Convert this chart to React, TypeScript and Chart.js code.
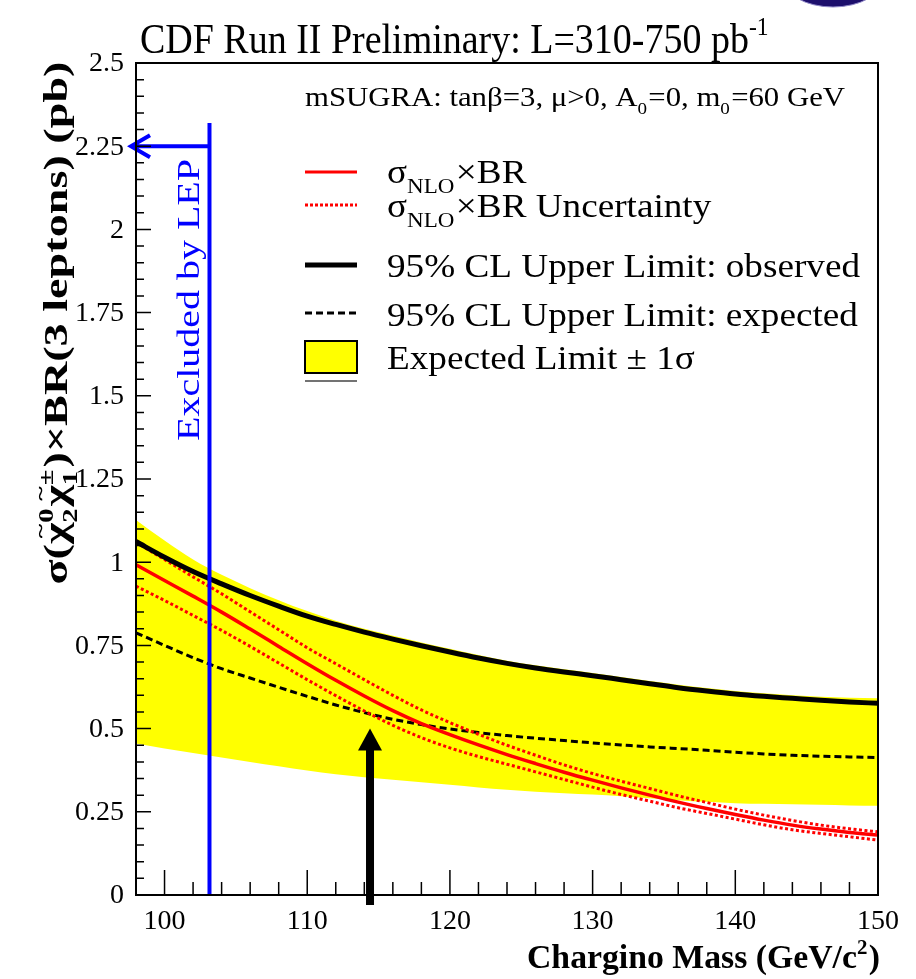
import { useEffect, useRef } from "react";
import { Chart, registerables } from "chart.js";

Chart.register(...registerables);

// Chargino mass grid (GeV/c^2)
const MASS = [98, 100, 102, 104, 106, 108, 110, 112, 114, 116, 118, 120, 122, 124, 126, 128, 130, 132, 134, 136, 138, 140, 142, 144, 146, 148, 150];

// 95% CL upper limits (pb)
const OBSERVED = [1.062, 1.015, 0.972, 0.935, 0.9, 0.868, 0.838, 0.813, 0.79, 0.769, 0.749, 0.73, 0.712, 0.696, 0.682, 0.67, 0.659, 0.647, 0.635, 0.623, 0.613, 0.604, 0.597, 0.591, 0.585, 0.58, 0.576];
const EXPECTED = [0.788, 0.75, 0.713, 0.68, 0.652, 0.624, 0.597, 0.571, 0.548, 0.528, 0.512, 0.499, 0.488, 0.479, 0.471, 0.464, 0.457, 0.451, 0.445, 0.44, 0.435, 0.429, 0.424, 0.42, 0.417, 0.415, 0.413];
const EXPECTED_HIGH = [1.127, 1.065, 1.008, 0.962, 0.922, 0.886, 0.853, 0.824, 0.8, 0.779, 0.759, 0.74, 0.721, 0.704, 0.69, 0.678, 0.667, 0.655, 0.643, 0.632, 0.622, 0.613, 0.606, 0.6, 0.596, 0.593, 0.591];
const EXPECTED_LOW = [0.455, 0.44, 0.427, 0.413, 0.4, 0.387, 0.374, 0.363, 0.354, 0.346, 0.339, 0.331, 0.323, 0.316, 0.31, 0.306, 0.302, 0.297, 0.291, 0.285, 0.28, 0.276, 0.274, 0.273, 0.271, 0.269, 0.268];

// NLO cross section x BR and its uncertainty (pb)
const XSEC = [0.992, 0.945, 0.898, 0.85, 0.799, 0.747, 0.695, 0.645, 0.598, 0.554, 0.515, 0.482, 0.451, 0.422, 0.395, 0.369, 0.345, 0.322, 0.3, 0.279, 0.26, 0.242, 0.225, 0.21, 0.198, 0.188, 0.18];
const XSEC_HIGH = [1.06, 1.008, 0.956, 0.905, 0.851, 0.797, 0.743, 0.695, 0.647, 0.6, 0.556, 0.518, 0.483, 0.45, 0.42, 0.391, 0.365, 0.342, 0.32, 0.298, 0.278, 0.258, 0.24, 0.224, 0.21, 0.199, 0.19];
const XSEC_LOW = [0.928, 0.885, 0.84, 0.795, 0.747, 0.697, 0.647, 0.599, 0.553, 0.51, 0.473, 0.442, 0.416, 0.393, 0.37, 0.347, 0.324, 0.302, 0.282, 0.262, 0.245, 0.228, 0.211, 0.196, 0.185, 0.175, 0.165];

// LEP exclusion and the marked crossing point
const LEP_LIMIT = 103.15;
const LEP_ARROW_LEVEL = 2.25;
const LEP_LINE_TOP = 2.32;
const CROSSING_MASS = 114.4;
const CROSSING_LEVEL = 0.5;

// Axis tick labels
const Y_TICKS = ["0", "0.25", "0.5", "0.75", "1", "1.25", "1.5", "1.75", "2", "2.25", "2.5"];
const X_TICKS = ["100", "110", "120", "130", "140", "150"];

const SERIF = '"Liberation Serif", "DejaVu Serif", "Times New Roman", serif';
const font = (weight: string, size: number) => `${weight} ${size}px ${SERIF}`;

type Run = { t?: string; sub?: string; sup?: string; tilde?: boolean };

function runWidth(ctx: CanvasRenderingContext2D, r: Run, size: number, weight: string) {
  if (r.t !== undefined) {
    ctx.font = font(weight, size);
    return ctx.measureText(r.t).width;
  }
  ctx.font = font(weight, size * 0.62);
  const a = r.sub ? ctx.measureText(r.sub).width : 0;
  const b = r.sup ? ctx.measureText(r.sup).width : 0;
  return Math.max(a, b) + size * 0.04;
}

function richWidth(ctx: CanvasRenderingContext2D, runs: Run[], size: number, weight: string) {
  return runs.reduce((s, r) => s + runWidth(ctx, r, size, weight), 0);
}

function drawRich(
  ctx: CanvasRenderingContext2D,
  runs: Run[],
  size: number,
  weight: string,
  color: string,
  x: number,
  y: number,
  opts: { width?: number; sx?: number; align?: "left" | "right" | "center" } = {}
) {
  const natural = richWidth(ctx, runs, size, weight);
  const sx = opts.width ? opts.width / natural : opts.sx ?? 1;
  const total = natural * sx;
  let x0 = x;
  if (opts.align === "right") x0 = x - total;
  if (opts.align === "center") x0 = x - total / 2;
  ctx.save();
  ctx.translate(x0, y);
  ctx.scale(sx, 1);
  ctx.fillStyle = color;
  ctx.textAlign = "left";
  ctx.textBaseline = "alphabetic";
  let cx = 0;
  for (const r of runs) {
    const w = runWidth(ctx, r, size, weight);
    if (r.t !== undefined) {
      ctx.font = font(weight, size);
      ctx.fillText(r.t, cx, 0);
      if (r.tilde) {
        ctx.font = font(weight, size * 0.6);
        const tw = ctx.measureText("~").width;
        ctx.fillText("~", cx + (w - tw) / 2 + size * 0.05, -size * 0.62);
      }
    } else {
      ctx.font = font(weight, size * 0.62);
      if (r.sup) ctx.fillText(r.sup, cx, -size * 0.42);
      if (r.sub) ctx.fillText(r.sub, cx, size * 0.3);
    }
    cx += w;
  }
  ctx.restore();
  return sx;
}

const pts = (vals: number[]) => MASS.map((m, i) => ({ x: m, y: vals[i] }));

const decorPlugin = {
  id: "decor",
  afterDraw(chart: any) {
    const ctx: CanvasRenderingContext2D = chart.ctx;
    const { left, right, top, bottom } = chart.chartArea;
    const xs = chart.scales.x;
    const ys = chart.scales.y;
    ctx.save();

    // LEP exclusion line with arrow
    const lepX = xs.getPixelForValue(LEP_LIMIT);
    ctx.strokeStyle = "#0000ff";
    ctx.lineWidth = 4;
    ctx.beginPath();
    ctx.moveTo(lepX, bottom);
    ctx.lineTo(lepX, ys.getPixelForValue(LEP_LINE_TOP));
    ctx.stroke();
    const ay = ys.getPixelForValue(LEP_ARROW_LEVEL);
    const tipX = left - 5;
    ctx.beginPath();
    ctx.moveTo(lepX, ay);
    ctx.lineTo(tipX, ay);
    ctx.moveTo(tipX + 19, ay - 11);
    ctx.lineTo(tipX, ay);
    ctx.lineTo(tipX + 19, ay + 11);
    ctx.stroke();

    // rotated label along the LEP line
    ctx.save();
    ctx.translate(lepX - 10, 300);
    ctx.rotate(-Math.PI / 2);
    drawRich(ctx, [{ t: "Excluded by LEP" }], 32, "normal", "#0000ff", 0, 0, { width: 282, align: "center" });
    ctx.restore();

    // upward arrow at the crossing point
    const cxp = xs.getPixelForValue(CROSSING_MASS);
    const tipY = ys.getPixelForValue(CROSSING_LEVEL);
    ctx.fillStyle = "#000";
    ctx.beginPath();
    ctx.moveTo(cxp, tipY);
    ctx.lineTo(cxp + 12, tipY + 22);
    ctx.lineTo(cxp - 12, tipY + 22);
    ctx.closePath();
    ctx.fill();
    ctx.fillRect(cxp - 4, tipY + 21, 8, bottom + 10 - (tipY + 21));

    // frame
    ctx.strokeStyle = "#000";
    ctx.lineWidth = 2;
    ctx.strokeRect(left, top, right - left, bottom - top);

    // y ticks: major every 0.25, minor every 0.05
    ctx.lineWidth = 1.5;
    ctx.beginPath();
    for (let i = 0; i <= 50; i++) {
      const py = ys.getPixelForValue(i * 0.05);
      const len = i % 5 === 0 ? 15 : 8;
      ctx.moveTo(left, py);
      ctx.lineTo(left + len, py);
    }
    // x ticks: major every 10, minor every 2
    for (let m = 100; m < 150; m += 2) {
      const px = xs.getPixelForValue(m);
      const len = m % 10 === 0 ? 25 : 13;
      ctx.moveTo(px, bottom);
      ctx.lineTo(px, bottom - len);
    }
    ctx.stroke();

    // tick labels
    ctx.fillStyle = "#000";
    ctx.font = font("normal", 28);
    ctx.textAlign = "right";
    ctx.textBaseline = "middle";
    for (const lab of Y_TICKS) {
      ctx.fillText(lab, left - 12, ys.getPixelForValue(parseFloat(lab)) + 1);
    }
    ctx.textAlign = "center";
    ctx.textBaseline = "alphabetic";
    for (const lab of X_TICKS) {
      ctx.fillText(lab, xs.getPixelForValue(parseFloat(lab)), bottom + 34);
    }

    // axis titles
    drawRich(ctx, [{ t: "Chargino Mass (GeV/c" }, { sup: "2" }, { t: ")" }], 33, "bold", "#000", 880, 968, {
      width: 353,
      align: "right",
    });
    ctx.save();
    ctx.translate(67, 323);
    ctx.rotate(-Math.PI / 2);
    drawRich(
      ctx,
      [
        { t: "σ(" },
        { t: "χ", tilde: true },
        { sub: "2", sup: "0" },
        { t: "χ", tilde: true },
        { sub: "1", sup: "±" },
        { t: ")×BR(3 leptons) (pb)" },
      ],
      33,
      "bold",
      "#000",
      0,
      0,
      { width: 523, align: "center" }
    );
    ctx.restore();

    // title and model parameters
    drawRich(ctx, [{ t: "CDF Run II Preliminary: L=310-750 pb" }, { sup: "-1" }], 42, "normal", "#000", 140, 53, {
      width: 630,
    });
    drawRich(
      ctx,
      [{ t: "mSUGRA: tanβ=3, μ>0, A" }, { sub: "0" }, { t: "=0, m" }, { sub: "0" }, { t: "=60 GeV" }],
      27,
      "normal",
      "#000",
      305,
      106,
      { width: 540 }
    );

    // legend
    const lx0 = 305;
    const lx1 = 357;
    const tx = 387;
    const seg = (y: number, color: string, w: number, dash: number[]) => {
      ctx.save();
      ctx.strokeStyle = color;
      ctx.lineWidth = w;
      ctx.setLineDash(dash);
      ctx.beginPath();
      ctx.moveTo(lx0, y);
      ctx.lineTo(lx1, y);
      ctx.stroke();
      ctx.restore();
    };
    const LS = 33;
    const sx = richWidth(ctx, [{ t: "95% CL Upper Limit: observed" }], LS, "normal");
    const lsx = 473 / sx;
    seg(172, "#ff0000", 3, []);
    drawRich(ctx, [{ t: "σ" }, { sub: "NLO" }, { t: "×BR" }], LS, "normal", "#000", tx, 183, { sx: lsx });
    seg(205, "#ff0000", 3, [3, 2]);
    drawRich(ctx, [{ t: "σ" }, { sub: "NLO" }, { t: "×BR Uncertainty" }], LS, "normal", "#000", tx, 217, { sx: lsx });
    seg(265, "#000", 5, []);
    drawRich(ctx, [{ t: "95% CL Upper Limit: observed" }], LS, "normal", "#000", tx, 277, { sx: lsx });
    seg(313, "#000", 3, [7, 4]);
    drawRich(ctx, [{ t: "95% CL Upper Limit: expected" }], LS, "normal", "#000", tx, 326, { sx: lsx });
    ctx.fillStyle = "#ffff00";
    ctx.fillRect(lx0, 341, lx1 - lx0, 32);
    ctx.strokeStyle = "#000";
    ctx.lineWidth = 2;
    ctx.strokeRect(lx0, 341, lx1 - lx0, 32);
    drawRich(ctx, [{ t: "Expected Limit ± 1σ" }], LS, "normal", "#000", tx, 369, { sx: lsx });
    seg(381, "#444", 1.5, []);

    // experiment logo corner
    ctx.fillStyle = "#1d0f6c";
    ctx.strokeStyle = "#9088c8";
    ctx.lineWidth = 1;
    ctx.beginPath();
    ctx.ellipse(833, -22, 50, 29, 0, 0, Math.PI * 2);
    ctx.fill();
    ctx.stroke();

    ctx.restore();
  },
};

export default function App() {
  const ref = useRef<HTMLCanvasElement>(null);

  useEffect(() => {
    const canvas = ref.current;
    if (!canvas) return;
    const line = (data: number[], color: string, width: number, dash: number[], order: number) => ({
      data: pts(data),
      borderColor: color,
      borderWidth: width,
      borderDash: dash,
      pointRadius: 0,
      fill: false,
      cubicInterpolationMode: "monotone" as const,
      order,
    });
    const chart = new Chart(canvas, {
      type: "line",
      data: {
        datasets: [
          {
            data: pts(EXPECTED_LOW),
            borderColor: "rgba(0,0,0,0)",
            borderWidth: 0,
            pointRadius: 0,
            fill: false,
            cubicInterpolationMode: "monotone",
            order: 11,
          },
          {
            data: pts(EXPECTED_HIGH),
            borderColor: "rgba(0,0,0,0)",
            backgroundColor: "#ffff00",
            borderWidth: 0,
            pointRadius: 0,
            fill: "-1",
            cubicInterpolationMode: "monotone",
            order: 10,
          },
          line(EXPECTED, "#000", 3, [7, 4], 6),
          line(XSEC_HIGH, "#ff0000", 3, [3, 2.5], 5),
          line(XSEC_LOW, "#ff0000", 3, [3, 2.5], 4),
          line(XSEC, "#ff0000", 3.5, [], 3),
          line(OBSERVED, "#000", 5, [], 2),
        ],
      },
      options: {
        animation: false,
        responsive: false,
        devicePixelRatio: 1,
        layout: { padding: { left: 0, top: 63, right: 38, bottom: 0 } },
        scales: {
          x: {
            type: "linear",
            min: 98,
            max: 150,
            ticks: { display: false, stepSize: 10 },
            grid: { display: false },
            border: { display: false },
            afterFit: (s: any) => {
              s.height = 84;
            },
          },
          y: {
            min: 0,
            max: 2.5,
            ticks: { display: false, stepSize: 0.25 },
            grid: { display: false },
            border: { display: false },
            afterFit: (s: any) => {
              s.width = 136;
            },
          },
        },
        plugins: { legend: { display: false }, tooltip: { enabled: false } },
      },
      plugins: [decorPlugin],
    } as any);
    return () => chart.destroy();
  }, []);

  return (
    <canvas
      ref={ref}
      width={916}
      height={979}
      style={{ position: "absolute", left: 0, top: 0, width: 916, height: 979, background: "#fff" }}
    />
  );
}
